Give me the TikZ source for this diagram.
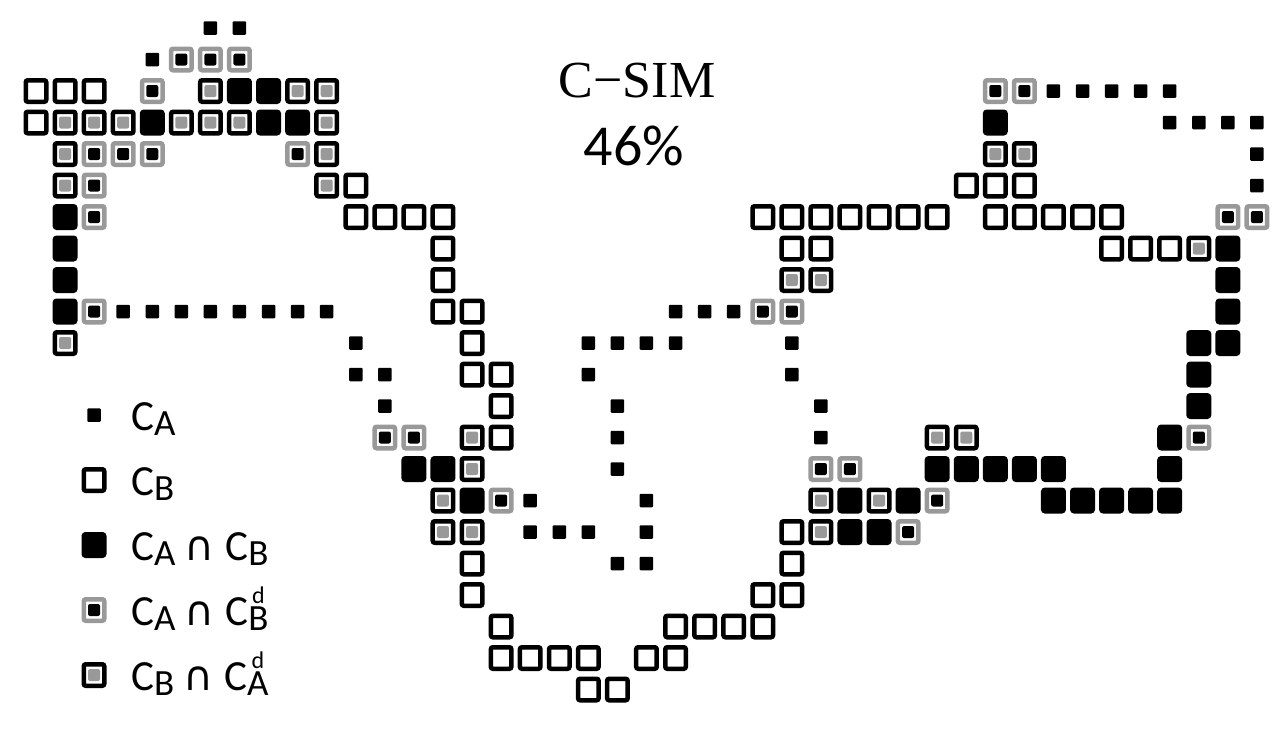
\documentclass[tikz,border=0pt]{standalone}
\usepackage{fontspec}
\usepackage{calc}
\setmainfont{Carlito}
\newfontfamily\titlefont{Liberation Serif}
\newfontfamily\symfont{DejaVu Sans}
\usetikzlibrary{positioning}

\definecolor{midgray}{gray}{0.6}

\newcommand{\lsub}[1]{\raisebox{-5pt}{\fontsize{37}{37}\selectfont #1}}
\newcommand{\lsubd}[1]{\raisebox{-5pt}{\fontsize{37}{37}\selectfont\makebox[0pt][l]{\makebox[\widthof{#1}][c]{\raisebox{27pt}{\fontsize{24}{24}\selectfont d}}}#1}}
\newcommand{\capsym}{\hspace{9pt}{\symfont\fontsize{41}{41}\selectfont ∩}\hspace{11pt}}

\tikzset{
  cell/.style={minimum width=20.5pt, minimum height=21.5pt, inner sep=0pt, line width=4.5pt, rounded corners=2pt},
  onlyb/.style={cell, draw=black, fill=white},
  both/.style={cell, draw=black, fill=black},
  adark/.style={cell, draw=midgray, fill=white,
    path picture={\fill[black] ([shift={(-6pt,-6pt)}]path picture bounding box.center) rectangle ++(12pt,12pt);}},
  bgray/.style={cell, draw=black, fill=white,
    path picture={\fill[midgray] ([shift={(-6pt,-6pt)}]path picture bounding box.center) rectangle ++(12pt,12pt);}},
  onlya/.style={fill=black, minimum size=13.5pt, inner sep=0pt, rounded corners=1pt},
  keytext/.style={anchor=base west, inner sep=0pt, font=\fontsize{43}{43}\selectfont}
}

\begin{document}
\begin{tikzpicture}[x=1pt, y=-1pt, node distance=65pt, on grid]
\useasboundingbox (0,0) rectangle (1280,745);

% contour A only
\foreach \c/\r in {6/0,7/0,4/1,3/9,4/9,5/9,6/9,7/9,8/9,9/9,10/9,22/9,23/9,24/9,
    11/10,19/10,20/10,21/10,22/10,26/10,11/11,12/11,19/11,26/11,
    12/12,20/12,27/12,20/13,27/13,20/14,17/15,21/15,
    17/16,18/16,19/16,21/16,20/17,21/17,
    35/2,36/2,37/2,38/2,39/2,39/3,40/3,41/3,42/3,42/4,42/5}
  \node[onlya] (a-\c-\r) at ({36+29.07*\c},{28+31.5*\r}) {};

% contour B only
\foreach \c/\r in {0/2,1/2,2/2,0/3,11/5,11/6,12/6,13/6,14/6,14/7,14/8,
    14/9,15/9,15/10,15/11,16/11,16/12,16/13,15/17,15/18,
    16/19,22/19,23/19,24/19,25/19,16/20,17/20,18/20,19/20,21/20,22/20,
    19/21,20/21,25/18,26/18,26/17,26/16,
    25/6,26/6,27/6,28/6,29/6,30/6,31/6,26/7,27/7,
    32/5,33/5,34/5,33/6,34/6,35/6,36/6,37/6,37/7,38/7,39/7}
  \node[onlyb] (b-\c-\r) at ({36+29.07*\c},{28+31.5*\r}) {};

% A and B
\foreach \c/\r in {7/2,8/2,4/3,8/3,9/3,1/6,1/7,1/8,1/9,13/14,14/14,
    31/14,32/14,33/14,34/14,35/14,39/14,15/15,28/15,30/15,
    35/15,36/15,37/15,38/15,39/15,28/16,29/16,33/3,
    41/7,41/8,41/9,40/10,41/10,40/11,40/12,39/13}
  \node[both] (ab-\c-\r) at ({36+29.07*\c},{28+31.5*\r}) {};

% A near B
\foreach \c/\r in {5/1,6/1,7/1,4/2,2/4,3/4,4/4,9/4,2/5,2/6,2/9,25/9,26/9,
    12/13,13/13,40/13,27/14,28/14,16/15,31/15,30/16,33/2,34/2,41/6,42/6}
  \node[adark] (ad-\c-\r) at ({36+29.07*\c},{28+31.5*\r}) {};

% B near A
\foreach \c/\r in {6/2,9/2,10/2,1/3,2/3,3/3,5/3,6/3,7/3,10/3,1/4,10/4,
    1/5,10/5,1/10,15/13,31/13,32/13,15/14,14/15,27/15,29/15,14/16,15/16,
    27/16,26/8,27/8,33/4,34/4,40/7}
  \node[bgray] (bd-\c-\r) at ({36+29.07*\c},{28+31.5*\r}) {};

% score
\node[anchor=base, inner sep=0pt, font=\titlefont\fontsize{52}{52}\selectfont] (title) at (637,97) {C−SIM};
\node[anchor=base, inner sep=0pt, font=\fontsize{58}{58}\selectfont] (score) at (634,165) {46\%};

% legend
\node[onlya] (keya) at (94,415) {};
\node[onlyb] (keyb) [below=of keya] {};
\node[both]  (keyab) [below=of keyb] {};
\node[adark] (keyad) [below=of keyab] {};
\node[bgray] (keybd) [below=of keyad] {};
\node[keytext] (texta)  at ([xshift=37pt,yshift=-15pt]keya.center)  {C\lsub{A}};
\node[keytext] (textb)  at ([xshift=37pt,yshift=-15pt]keyb.center)  {C\lsub{B}};
\node[keytext] (textab) at ([xshift=37pt,yshift=-15pt]keyab.center) {C\lsub{A}\capsym C\lsub{B}};
\node[keytext] (textad) at ([xshift=37pt,yshift=-15pt]keyad.center) {C\lsub{A}\capsym C\lsubd{B}};
\node[keytext] (textbd) at ([xshift=37pt,yshift=-15pt]keybd.center) {C\lsub{B}\capsym C\lsubd{A}};
\end{tikzpicture}
\end{document}
